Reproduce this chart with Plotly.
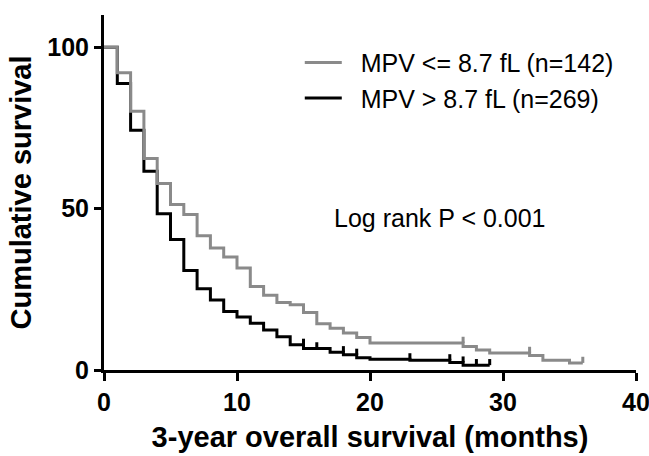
import plotly.graph_objects as go

# Group 1: MPV <= 8.7 fL (n=142)
low_t = [0, 1, 2, 3, 4, 5, 6, 7, 8, 9, 10, 11, 12, 13, 14, 15, 16, 17, 18, 19, 20, 27, 28, 29, 32, 33, 35, 36]
low_s = [100, 92.1, 80.2, 65.5, 57.8, 51.3, 48.2, 41.6, 37.8, 35.0, 31.6, 25.9, 23.2, 20.9, 20.2, 17.8,
         14.3, 12.9, 11.5, 10.1, 8.4, 7.3, 6.2, 5.3, 4.5, 3.0, 2.2, 2.2]
low_cens_t = [27, 32, 36]
low_cens_s = [8.4, 5.3, 2.2]

# Group 2: MPV > 8.7 fL (n=269)
high_t = [0, 1, 2, 3, 4, 5, 6, 7, 8, 9, 10, 11, 12, 13, 14, 15, 17, 18, 19, 20, 23, 26, 27, 29]
high_s = [100, 88.8, 74.3, 61.6, 48.4, 40.4, 30.8, 25.2, 21.7, 18.1, 16.4, 14.5, 12.4, 10.3, 7.8, 6.7,
          5.5, 4.7, 3.8, 3.3, 3.0, 2.3, 1.5, 1.5]
high_cens_t = [15, 16, 18, 19, 23, 26, 27, 28, 29]
high_cens_s = [7.8, 6.7, 5.5, 4.7, 3.3, 3.0, 2.3, 1.5, 1.5]

x_ticks = [0, 10, 20, 30, 40]
y_ticks = [0, 50, 100]

GRAY = "#8a8a8a"
BLACK = "#000000"
FONT = "Liberation Sans, Arial, sans-serif"
PAD = "\u00a0\u00a0"

fig = go.Figure()

def add_group(t, s, ct, cs, color, name):
    fig.add_trace(go.Scatter(x=t, y=s, mode="lines", line=dict(color=color, width=3, shape="hv"),
                             name=PAD + name, showlegend=True, legendgroup=name))
    fig.add_trace(go.Scatter(x=ct, y=cs, mode="markers", marker=dict(size=1, color=color, opacity=0),
                             error_y=dict(type="data", symmetric=False, array=[1.9] * len(ct),
                                          arrayminus=[0] * len(ct), color=color, thickness=3, width=0),
                             showlegend=False, legendgroup=name, hoverinfo="skip"))

add_group(high_t, high_s, high_cens_t, high_cens_s, BLACK, "MPV > 8.7 fL (n=269)")
add_group(low_t, low_s, low_cens_t, low_cens_s, GRAY, "MPV <= 8.7 fL (n=142)")

fig.add_annotation(x=25.3, y=47.2, xref="x", yref="y", text="Log rank P < 0.001", showarrow=False,
                   font=dict(family=FONT, size=25, color="black"))

fig.update_layout(
    width=649, height=456,
    margin=dict(l=104, r=13, t=15, b=86),
    plot_bgcolor="white", paper_bgcolor="white",
    font=dict(family=FONT, color="black"),
    legend=dict(x=0.368, y=0.93, xanchor="left", yanchor="top", traceorder="reversed",
                font=dict(family=FONT, size=25, color="black"), bgcolor="rgba(0,0,0,0)",
                itemwidth=37, tracegroupgap=0),
    showlegend=True,
)
fig.update_xaxes(range=[0, 40], tickvals=x_ticks, ticks="outside", ticklen=8, tickwidth=3,
                 tickcolor="black", showline=True, linewidth=3, linecolor="black", showgrid=False,
                 zeroline=False, automargin=False, ticklabeloverflow="allow",
                 tickfont=dict(family=FONT, size=25, weight="bold"),
                 title=dict(text="3-year overall survival (months)",
                            font=dict(family=FONT, size=29, weight="bold"), standoff=12))
fig.update_yaxes(range=[0, 110], tickvals=y_ticks, ticks="outside", ticklen=7, tickwidth=3,
                 tickcolor="black", showline=True, linewidth=3, linecolor="black", showgrid=False,
                 zeroline=False, automargin=False, ticklabeloverflow="allow",
                 tickfont=dict(family=FONT, size=25, weight="bold"),
                 title=dict(text="Cumulative survival",
                            font=dict(family=FONT, size=29, weight="bold"), standoff=8))

fig.write_html("out.html", config={"displayModeBar": False},
               post_script="document.documentElement.style.margin='0';"
                           "document.body.style.margin='0';document.body.style.overflow='hidden';")
